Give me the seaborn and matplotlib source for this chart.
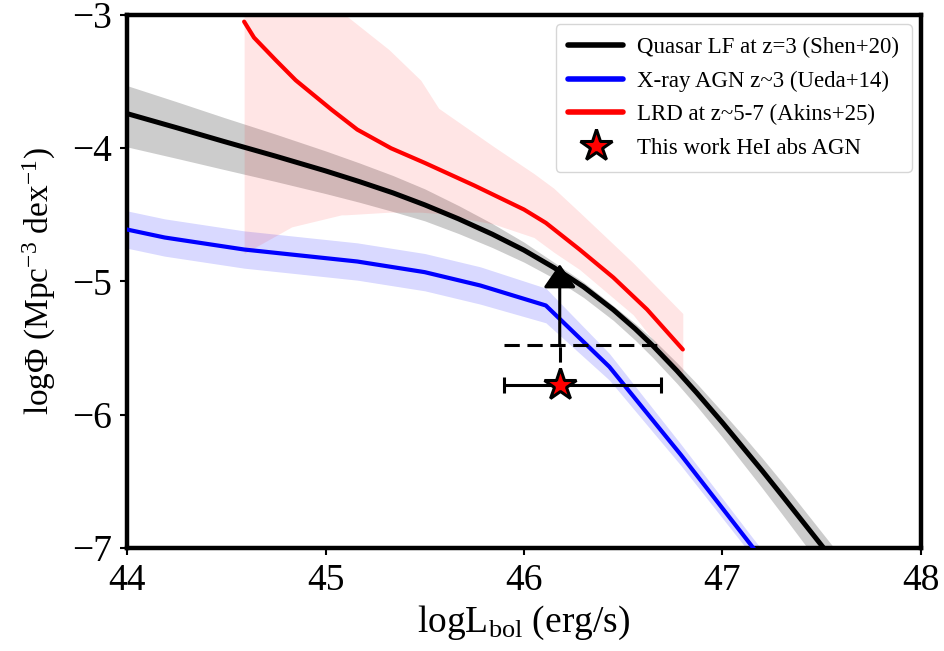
import numpy as np
import pandas as pd
import matplotlib
matplotlib.use("Agg")
import matplotlib.pyplot as plt
import seaborn as sns

# ---- data ----
qso_x = [44.0, 44.25, 44.49, 44.75, 45.0, 45.17, 45.34, 45.5, 45.67, 45.84, 46.0, 46.15, 46.3, 46.45,
         46.56, 46.65, 46.77, 46.87, 47.0, 47.1, 47.2, 47.3, 47.4, 47.5, 47.6]
qso_y = [-3.74, -3.846, -3.95, -4.06, -4.17, -4.25, -4.335, -4.425, -4.53, -4.645, -4.765, -4.895,
         -5.04, -5.212, -5.355, -5.483, -5.669, -5.835, -6.06, -6.24, -6.42, -6.606, -6.794, -6.982, -7.17]
qso_up = [0.21, 0.195, 0.18, 0.165, 0.15, 0.14, 0.13, 0.12, 0.10, 0.08, 0.06, 0.04, 0.035, 0.03,
          0.04, 0.05, 0.06, 0.07, 0.08, 0.09, 0.095, 0.10, 0.10, 0.10, 0.10]
qso_dn = [0.25, 0.23, 0.21, 0.19, 0.17, 0.155, 0.14, 0.12, 0.11, 0.10, 0.09, 0.08, 0.08, 0.08,
          0.085, 0.09, 0.095, 0.10, 0.11, 0.12, 0.13, 0.14, 0.15, 0.16, 0.16]

xray_x = [44.0, 44.19, 44.59, 45.16, 45.5, 45.78, 46.11, 46.43, 46.79, 47.15, 47.25]
xray_y = [-4.61, -4.67, -4.76, -4.85, -4.93, -5.03, -5.18, -5.64, -6.30, -6.99, -7.18]
xray_err = [0.14, 0.14, 0.14, 0.14, 0.14, 0.14, 0.13, 0.10, 0.08, 0.07, 0.07]

lrd_x = [44.59, 44.64, 44.75, 44.85, 45.03, 45.16, 45.33, 45.50, 45.75, 46.00, 46.11, 46.28, 46.45, 46.62, 46.80]
lrd_y = [-3.05, -3.17, -3.34, -3.49, -3.71, -3.86, -4.00, -4.11, -4.28, -4.46, -4.56, -4.76, -4.97, -5.21, -5.51]

lrd_band_x = [44.59, 44.65, 44.83, 45.08, 45.10, 45.32, 45.48, 45.57, 45.85, 46.05, 46.15, 46.28, 46.55, 46.80]
lrd_band_lo = [-4.79, -4.74, -4.59, -4.50, -4.50, -4.48, -4.48, -4.49, -4.57, -4.67, -4.78, -4.91, -5.25, -5.72]
lrd_band_hi = [-2.50, -2.60, -2.85, -2.99, -3.00, -3.26, -3.49, -3.70, -3.99, -4.19, -4.30, -4.48, -4.86, -5.24]

this_x = [46.18]
this_y = [-5.78]
this_xerr_lo = [0.28]
this_xerr_hi = [0.51]
limit_y = -5.48
arrow_top = -4.87
limit_xmin, limit_xmax = 45.90, 46.69

labels = ["Quasar LF at z=3 (Shen+20)", "X-ray AGN z~3 (Ueda+14)",
          "LRD at z~5-7 (Akins+25)", "This work HeI abs AGN"]

sns.set_theme(style="ticks")
plt.rcParams['font.family'] = ['Liberation Serif', 'DejaVu Serif']
plt.rcParams['mathtext.fontset'] = 'custom'
plt.rcParams['mathtext.rm'] = 'Liberation Serif'
plt.rcParams['mathtext.it'] = 'Liberation Serif:italic'
plt.rcParams['text.color'] = 'black'
plt.rcParams['axes.labelcolor'] = 'black'
plt.rcParams['xtick.color'] = 'black'
plt.rcParams['ytick.color'] = 'black'

fig = plt.figure(figsize=(9.45, 6.51), dpi=100)
ax = fig.add_axes([0.1344, 0.1582, 0.8402, 0.8188])

# bands
ax.fill_between(qso_x, np.array(qso_y) - np.array(qso_dn), np.array(qso_y) + np.array(qso_up),
                color='0.5', alpha=0.4, lw=0, zorder=1)
ax.fill_between(xray_x, np.array(xray_y) - np.array(xray_err), np.array(xray_y) + np.array(xray_err),
                color='blue', alpha=0.15, lw=0, zorder=1)
ax.fill_between(lrd_band_x, lrd_band_lo, lrd_band_hi, color='red', alpha=0.1, lw=0, zorder=1)

qdf = pd.DataFrame({"x": qso_x, "y": qso_y})
xdf = pd.DataFrame({"x": xray_x, "y": xray_y})
ldf = pd.DataFrame({"x": lrd_x, "y": lrd_y})
sns.lineplot(data=qdf, x="x", y="y", ax=ax, color='black', lw=3.6, sort=False,
             estimator=None, label=labels[0], zorder=3)
sns.lineplot(data=xdf, x="x", y="y", ax=ax, color='blue', lw=3.0, sort=False,
             estimator=None, label=labels[1], zorder=3)
sns.lineplot(data=ldf, x="x", y="y", ax=ax, color='red', lw=3.0, sort=False,
             estimator=None, label=labels[2], zorder=3)

# limit indicators
ax.plot([limit_xmin, limit_xmax], [limit_y, limit_y], color='black', ls=(0, (5, 2.5)), lw=2.2, zorder=4)
ax.plot([this_x[0], this_x[0]], [this_y[0], limit_y], color='black', ls=(0, (5, 2.5)), lw=2.2, zorder=4)
ax.annotate("", xy=(this_x[0], arrow_top), xytext=(this_x[0], limit_y),
            arrowprops=dict(arrowstyle="-|>,head_length=0.72,head_width=0.5", color='black', lw=2.2,
                            shrinkA=0, shrinkB=0, mutation_scale=20), zorder=5)
ax.errorbar(this_x, this_y, xerr=[this_xerr_lo, this_xerr_hi], fmt='none', ecolor='black',
            elinewidth=2.2, capsize=6, capthick=2.2, zorder=5)
ax.plot(this_x, this_y, marker='*', ms=24, mfc='red', mec='black', mew=2.2, ls='none',
        label=labels[3], zorder=6)

ax.set_xlim(44, 48)
ax.set_ylim(-7, -3)
ax.set_xticks([44, 45, 46, 47, 48])
ax.set_yticks([-7, -6, -5, -4, -3])
ax.tick_params(axis='both', labelsize=27, width=1.5, length=5, direction='out', pad=6,
               colors='black')
for s in ax.spines.values():
    s.set_linewidth(3.2)
    s.set_color('black')
ax.set_xlabel(r"logL$_{\rm bol}$ (erg/s)", fontsize=27, labelpad=4)
ax.set_ylabel(r"log$\Phi$ (Mpc$^{-3}$ dex$^{-1}$)", fontsize=24, labelpad=10)

leg = ax.legend(loc='upper right', fontsize=16.5, frameon=True, handlelength=2.4,
                borderpad=0.55, labelspacing=0.55, handletextpad=0.6, fancybox=True,
                borderaxespad=0.4)
leg.get_frame().set_edgecolor('0.8')
for h in leg.legend_handles[:3]:
    h.set_linewidth(4)

fig.savefig("out.png", dpi=100)
